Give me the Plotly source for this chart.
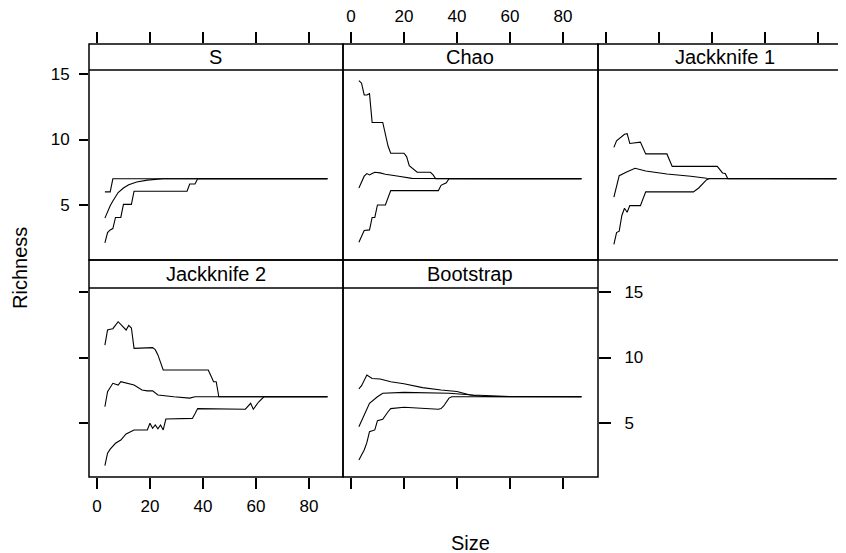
import plotly.graph_objects as go

# ---------------- data ----------------
panel_titles = ["S", "Chao", "Jackknife 1", "Jackknife 2", "Bootstrap"]
x_ticks = [0, 20, 40, 60, 80]
y_ticks = [5, 10, 15]

# S
s_up_x = [3, 5, 6, 87]
s_up_y = [6.0, 6.0, 7.0, 7.0]
s_mean_x = [3, 4, 5, 6, 7, 8, 10, 12, 15, 19, 25, 87]
s_mean_y = [4.0, 4.5, 4.95, 5.3, 5.6, 5.95, 6.3, 6.55, 6.75, 6.9, 7.0, 7.0]
s_low_x = [3, 4, 5, 6, 7, 9, 10, 13, 14, 34, 35, 37, 38, 87]
s_low_y = [2.1, 2.9, 3.1, 3.2, 4.05, 4.05, 5.05, 5.05, 6.05, 6.05, 6.6, 6.6, 7.0, 7.0]

# Chao
chao_up_x = [3, 4, 5, 6, 7, 8, 12, 13, 14, 15, 20, 21, 22, 25, 30, 31, 32, 87]
chao_up_y = [14.5, 14.3, 13.4, 13.4, 13.5, 11.3, 11.3, 10.3, 9.5, 8.95, 8.95, 8.7, 8.0, 7.5, 7.5, 7.3, 7.0, 7.0]
chao_mean_x = [3, 4, 5, 6, 7, 8, 9, 11, 13, 18, 23, 87]
chao_mean_y = [6.3, 6.7, 7.2, 7.4, 7.3, 7.4, 7.5, 7.45, 7.35, 7.2, 7.03, 7.0]
chao_low_x = [3, 4, 5, 7, 8, 9, 10, 13, 14, 15, 33, 34, 35, 36, 37, 87]
chao_low_y = [2.15, 2.6, 3.05, 3.1, 4.05, 4.05, 5.0, 5.0, 5.5, 6.1, 6.1, 6.5, 6.6, 6.7, 7.0, 7.0]

# Jackknife 1
jk1_up_x = [3, 4, 7, 8, 9, 13, 15, 23, 25, 42, 44, 45, 46, 87]
jk1_up_y = [9.4, 9.9, 10.4, 10.45, 9.7, 9.8, 8.9, 8.9, 7.95, 7.95, 7.45, 7.4, 7.0, 7.0]
jk1_mean_x = [3, 5, 8, 11, 15, 23, 32, 38, 87]
jk1_mean_y = [5.6, 7.24, 7.54, 7.8, 7.6, 7.37, 7.2, 7.04, 7.0]
jk1_low_x = [3, 4, 5, 6, 7, 8, 9, 13, 15, 33, 35, 38, 39, 87]
jk1_low_y = [2.0, 2.9, 3.0, 4.2, 4.75, 4.45, 4.95, 4.95, 6.0, 6.0, 6.3, 6.93, 7.0, 7.0]

# Jackknife 2
jk2_up_x = [3, 4, 5, 6, 8, 10, 11, 12, 13, 14, 21, 22, 23, 25, 42, 43, 44, 45, 46, 87]
jk2_up_y = [10.95, 12.1, 12.15, 12.2, 12.73, 12.35, 12.1, 12.45, 12.25, 10.7, 10.75, 10.6, 10.2,
            9.05, 9.05, 8.6, 8.15, 8.15, 7.0, 7.0]
jk2_mean_x = [3, 4, 6, 8, 9, 14, 17, 19, 21, 23, 29, 35, 37, 87]
jk2_mean_y = [6.24, 7.39, 8.03, 7.9, 8.15, 7.9, 7.52, 7.45, 7.45, 7.14, 7.0, 6.9, 7.0, 7.0]
jk2_low_x = [3, 4, 5, 7, 9, 11, 14, 19, 20, 21, 22, 23, 24, 25, 26, 36, 37, 38, 56, 57, 58,
             59, 60, 61, 63, 87]
jk2_low_y = [1.74, 2.7, 3.0, 3.45, 3.7, 4.16, 4.47, 4.47, 4.98, 4.6, 4.85, 4.55, 4.85, 4.47,
             5.3, 5.35, 5.7, 6.1, 6.05, 6.3, 6.5, 6.05, 6.35, 6.6, 7.0, 7.0]

# Bootstrap
boot_up_x = [3, 4, 6, 8, 11, 15, 20, 27, 34, 40, 45, 50, 87]
boot_up_y = [7.6, 7.85, 8.66, 8.4, 8.36, 8.15, 8.0, 7.7, 7.52, 7.4, 7.14, 7.02, 7.0]
boot_mean_x = [3, 5, 7, 10, 12, 20, 37, 46, 60, 87]
boot_mean_y = [4.72, 5.6, 6.5, 7.0, 7.27, 7.34, 7.27, 7.14, 7.02, 7.0]
boot_low_x = [3, 4, 5, 6, 7, 9, 10, 12, 13, 14, 15, 20, 33, 34, 35, 37, 38, 87]
boot_low_y = [2.18, 2.6, 2.94, 3.5, 4.34, 4.47, 5.18, 5.28, 5.6, 5.86, 6.1, 6.2, 6.05, 6.1,
              6.3, 6.9, 7.0, 7.0]

panels = [
    [(s_up_x, s_up_y), (s_mean_x, s_mean_y), (s_low_x, s_low_y)],
    [(chao_up_x, chao_up_y), (chao_mean_x, chao_mean_y), (chao_low_x, chao_low_y)],
    [(jk1_up_x, jk1_up_y), (jk1_mean_x, jk1_mean_y), (jk1_low_x, jk1_low_y)],
    [(jk2_up_x, jk2_up_y), (jk2_mean_x, jk2_mean_y), (jk2_low_x, jk2_low_y)],
    [(boot_up_x, boot_up_y), (boot_mean_x, boot_mean_y), (boot_low_x, boot_low_y)],
]

# ---------------- geometry ----------------
OFF = 8                       # page body margin
W, H = 846 - OFF, 553 - OFF
def px(v): return (v - OFF) / W
def py(v): return 1 - (v - OFF) / H

col_px = [(89, 343), (343, 598), (598, 846)]
row_px = [(44, 70, 260), (260, 288, 477)]   # strip top, panel top, panel bottom
PXU_X = 2.65
PXU_Y = 13.1
pos = [(0, 0), (1, 0), (2, 0), (0, 1), (1, 1)]

fig = go.Figure()
FONT = "Liberation Sans, Arial, Helvetica, sans-serif"

for i, series in enumerate(panels):
    k = "" if i == 0 else str(i + 1)
    for xs, ys in series:
        fig.add_trace(go.Scatter(x=xs, y=ys, mode="lines", xaxis="x" + k, yaxis="y" + k,
                                 line=dict(color="black", width=1.1), showlegend=False,
                                 hoverinfo="skip"))

layout = dict(width=W, height=H, margin=dict(l=0, r=0, t=0, b=0),
              paper_bgcolor="white", plot_bgcolor="white", showlegend=False,
              font=dict(family=FONT, color="black"))

shapes = []
annotations = []
LW = 1.5
TF = dict(size=17, family=FONT, color="black")
for i, (c, r) in enumerate(pos):
    k = "" if i == 0 else str(i + 1)
    x0, x1 = col_px[c]
    st, pt, pb = row_px[r]
    xmin = -3.0
    xmax = xmin + (x1 - x0) / PXU_X
    ytop_panel = 15 + 4 / PXU_Y
    ymin = ytop_panel - (pb - pt) / PXU_Y
    ymax = ytop_panel + (pt - st) / PXU_Y
    top_row = (r == 0)
    xa = dict(domain=[px(x0), px(x1)], range=[xmin, xmax], anchor="y" + k,
              showgrid=False, zeroline=False, showline=False, tickvals=x_ticks,
              ticks="outside", ticklen=11, tickwidth=1.5, tickcolor="black",
              side="top" if top_row else "bottom", ticklabelstandoff=3,
              tickfont=TF)
    if top_row:
        xa["showticklabels"] = (c == 1)
    else:
        xa["showticklabels"] = (c == 0)
    ya = dict(domain=[py(pb), py(st)], range=[ymin, ymax], anchor="x" + k,
              showgrid=False, zeroline=False, showline=False, tickvals=y_ticks,
              tickfont=TF, tickcolor="black", tickwidth=1.5)
    if c == 0:
        ya.update(side="left", ticks="outside", ticklen=9, showticklabels=(r == 0),
                  ticklabelstandoff=6)
    elif c == 1 and r == 1:
        ya.update(side="right", ticks="outside", ticklen=12, showticklabels=True,
                  ticklabelstandoff=10)
    else:
        ya.update(ticks="", showticklabels=False)
    layout["xaxis" + k] = xa
    layout["yaxis" + k] = ya
    # panel + strip border
    shapes.append(dict(type="rect", xref="paper", yref="paper",
                       x0=px(x0), x1=px(x1 + (10 if c == 2 else 0)), y0=py(pb), y1=py(st),
                       line=dict(color="black", width=LW), fillcolor="rgba(0,0,0,0)",
                       layer="above"))
    # strip bottom line
    shapes.append(dict(type="line", xref="paper", yref="paper",
                       x0=px(x0), x1=px(x1), y0=py(pt), y1=py(pt),
                       line=dict(color="black", width=LW)))
    cx = x0 + 126.5
    annotations.append(dict(text=panel_titles[i], xref="paper", yref="paper",
                            x=px(cx), y=py((st + pt) / 2), showarrow=False,
                            xanchor="center", yanchor="middle",
                            font=dict(size=20, family=FONT, color="black")))

annotations.append(dict(text="Size", xref="paper", yref="paper", x=px(470), y=py(543),
                        showarrow=False, xanchor="center", yanchor="middle",
                        font=dict(size=20, family=FONT, color="black")))
annotations.append(dict(text="Richness", xref="paper", yref="paper", x=px(20), y=py(268),
                        showarrow=False, xanchor="center", yanchor="middle", textangle=-90,
                        font=dict(size=20, family=FONT, color="black")))

layout["shapes"] = shapes
layout["annotations"] = annotations
fig.update_layout(**layout)
fig.write_html("out.html")
